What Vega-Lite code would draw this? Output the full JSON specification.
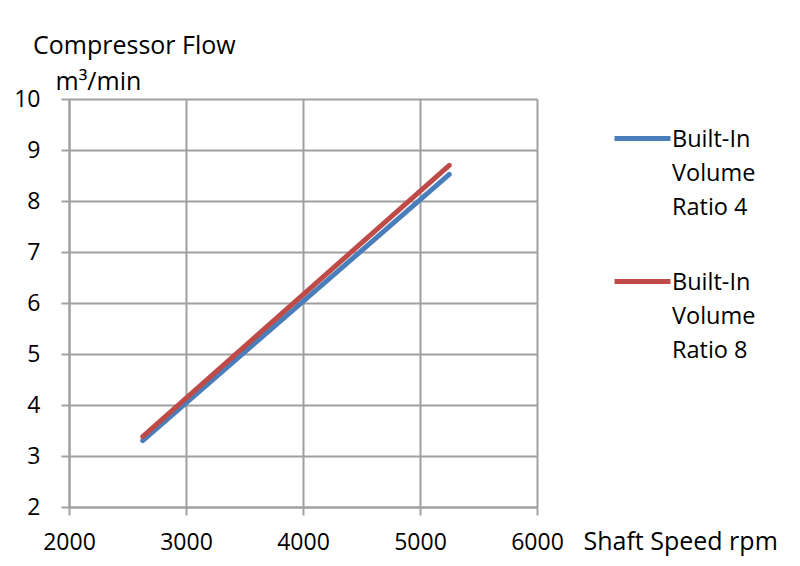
{
  "$schema": "https://vega.github.io/schema/vega-lite/v6.json",
  "width": 468,
  "height": 408,
  "autosize": {"type": "none"},
  "padding": {"left": 69, "top": 99, "right": 263, "bottom": 59},
  "background": "white",
  "title": {
    "text": "Compressor Flow",
    "anchor": "start", "frame": "group", "orient": "top",
    "baseline": "alphabetic", "offset": -10, "dx": -36,
    "font": "Open Sans", "fontSize": 25, "fontWeight": "normal", "color": "black"
  },
  "data": {
    "values": [
      {"rpm": 2630, "flow": 3.30, "series": "Built-In|Volume|Ratio 4"},
      {"rpm": 5250, "flow": 8.52, "series": "Built-In|Volume|Ratio 4"},
      {"rpm": 2630, "flow": 3.38, "series": "Built-In|Volume|Ratio 8"},
      {"rpm": 5250, "flow": 8.70, "series": "Built-In|Volume|Ratio 8"}
    ]
  },
  "mark": {"type": "line", "strokeWidth": 5, "strokeCap": "round"},
  "encoding": {
    "x": {
      "field": "rpm", "type": "quantitative",
      "scale": {"domain": [2000, 6000], "nice": false},
      "axis": {
        "values": [2000, 3000, 4000, 5000, 6000],
        "title": "Shaft Speed rpm",
        "titleAlign": "left", "titleBaseline": "alphabetic",
        "titleX": 514, "titleY": 42, "titleAngle": 0, "titleFontSize": 25,
        "labelBaseline": "alphabetic", "labelPadding": 34, "labelFlush": false,
        "format": "d"
      }
    },
    "y": {
      "field": "flow", "type": "quantitative",
      "scale": {"domain": [2, 10], "nice": false, "zero": false},
      "axis": {
        "values": [2, 3, 4, 5, 6, 7, 8, 9, 10],
        "title": "m³/min",
        "titleAngle": 0, "titleAlign": "left", "titleBaseline": "alphabetic",
        "titleX": -14, "titleY": -10, "titleFontSize": 25,
        "labelPadding": 21, "labelBaseline": "middle", "labelFlush": false
      }
    },
    "color": {
      "field": "series", "type": "nominal",
      "scale": {"range": ["#4a7ebb", "#be4b48"]},
      "legend": {
        "title": null,
        "orient": "none",
        "legendX": 543, "legendY": 9,
        "symbolType": "stroke",
        "symbolSize": 3136,
        "symbolStrokeWidth": 5,
        "labelExpr": "split(datum.label, '|')",
        "labelBaseline": "alphabetic",
        "labelFontSize": 23.5,
        "labelFont": "Open Sans",
        "labelColor": "black",
        "labelLimit": 300,
        "labelOffset": -1,
        "rowPadding": 32,
        "encode": {"labels": {"update": {"lineHeight": {"value": 34}, "dy": {"value": 8}}}}
      }
    }
  },
  "config": {
    "view": {"stroke": null},
    "font": "Open Sans",
    "axis": {
      "labelFont": "Open Sans", "labelFontSize": 23, "labelColor": "black",
      "titleFont": "Open Sans", "titleFontSize": 25, "titleColor": "black", "titleFontWeight": "normal",
      "gridColor": "#a0a0a0", "gridWidth": 2, "gridOpacity": 1,
      "domainColor": "#a0a0a0", "domainWidth": 2,
      "tickColor": "#a0a0a0", "tickWidth": 2, "tickSize": 8
    }
  }
}
